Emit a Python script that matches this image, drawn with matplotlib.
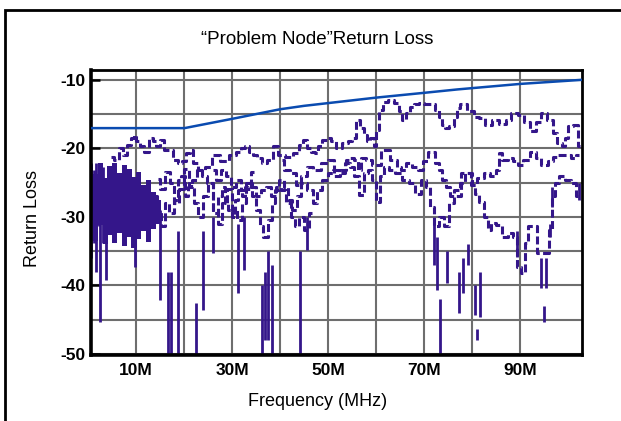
import matplotlib
matplotlib.use("Agg")
import matplotlib.pyplot as plt
from matplotlib.patches import Rectangle

plt.rcParams["font.family"] = ["Liberation Sans", "DejaVu Sans"]
plt.rcParams["axes.unicode_minus"] = False

TRACE_COLOR = "#34168a"
LIMIT_COLOR = "#0a4bb0"
GRID_COLOR = "#6e6e6e"

# spec limit line (MHz, dB)
limit_f = [0.5, 20.1, 30.0, 40.0, 45.0, 52.5, 60.0, 70.0, 77.0, 90.0, 102.9]
limit_db = [-17.05, -17.05, -15.7, -14.3, -13.8, -13.2, -12.6, -11.9, -11.4, -10.6, -10.0]

# upper measured trace
upper_f = [4.9, 5.9, 6.9, 7.6, 8.7, 9.4, 9.7, 10.4, 11.1, 12.2, 13.2, 13.9, 14.6, 15.3,
           16.3, 17.4, 18.2, 19.1, 20.1, 20.8, 21.5, 22.2, 23.6, 25.0, 26.7, 28.5, 30.3,
           31.3, 32.4, 33.1, 33.8, 34.8, 35.8, 36.5, 37.9, 39.0, 40.0, 42.1, 43.5, 44.5,
           45.2, 45.9, 46.9, 47.6, 48.3, 49.4, 50.1, 51.1, 52.2, 53.6, 54.6, 55.3, 56.4,
           57.1, 57.8, 58.5, 59.2, 59.9, 60.2, 60.9, 61.9, 63.3, 64.4, 65.1, 65.8, 66.8,
           67.5, 68.5, 69.6, 70.6, 71.7, 72.7, 73.4, 74.1, 74.8, 75.8, 76.5, 77.2, 77.9,
           79.9, 81.0, 82.0, 83.4, 84.8, 86.5, 87.6, 88.6, 90.4, 91.4, 92.8, 93.8, 94.9,
           96.3, 97.3, 98.3, 99.0, 99.7, 100.4, 101.8, 102.5]
upper_db = [-21.3, -21.7, -20.0, -20.9, -19.5, -18.5, -18.0, -19.0, -19.7, -20.5, -18.5, -19.0,
            -19.7, -18.8, -20.2, -20.2, -21.7, -22.2, -21.9, -20.7, -20.2, -22.2, -23.1, -22.7,
            -20.9, -21.9, -20.9, -20.5, -20.0, -19.7, -20.5, -20.9, -21.4, -22.2, -21.7, -19.7,
            -20.9, -21.2, -20.7, -19.5, -18.8, -20.0, -20.5, -20.7, -19.7, -18.8, -18.5, -19.0,
            -20.0, -19.2, -19.0, -18.5, -15.8, -17.0, -18.0, -19.0, -18.5, -19.7, -17.3, -14.4,
            -13.2, -13.0, -13.4, -14.6, -15.8, -14.9, -13.9, -13.5, -13.4, -13.5, -13.6, -14.4,
            -15.4, -16.6, -17.0, -16.8, -15.4, -14.1, -13.6, -14.6, -15.4, -15.6, -16.6, -15.9,
            -16.4, -15.9, -14.8, -15.1, -16.1, -17.4, -16.1, -14.8, -15.8, -17.8, -19.2, -19.7,
            -18.5, -16.7, -16.6, -19.7]

# middle trace
middle_f = [40.4, 41.4, 42.8, 43.8, 44.9, 46.3, 47.6, 49.4, 50.8, 51.9, 53.3, 54.0, 55.0,
            56.0, 56.4, 57.4, 58.5, 60.0, 61.9, 64.0, 64.7, 65.8, 66.8, 68.2, 69.2, 70.3,
            71.3, 72.0, 72.7, 73.4, 74.1, 75.1, 75.8, 76.9, 77.9, 79.2, 80.3, 81.7, 83.1,
            84.5, 85.5, 85.8, 86.9, 87.9, 89.0, 90.0, 91.4, 92.8, 93.8, 94.9, 96.6, 97.3,
            98.7, 100.1, 101.1, 102.2]
middle_db = [-21.7, -23.1, -23.6, -25.3, -24.1, -22.7, -23.1, -22.2, -21.7, -24.1, -23.1, -21.7,
             -21.4, -21.7, -23.1, -21.4, -21.7, -22.4, -20.2, -21.7, -22.7, -23.1, -22.2, -22.7,
             -23.1, -21.9, -20.5, -20.5, -22.2, -23.1, -24.6, -25.6, -27.0, -26.1, -25.1, -23.6,
             -25.3, -24.4, -23.6, -24.1, -23.1, -20.7, -21.7, -21.4, -21.9, -22.4, -21.7, -20.5,
             -21.4, -22.4, -21.9, -21.2, -20.9, -20.9, -21.4, -20.9]

# lower trace
lower_f = [13.9, 14.9, 15.6, 16.3, 17.4, 18.4, 19.1, 19.8, 20.5, 21.2, 22.2, 23.3, 24.3, 25.3,
           26.8, 27.5, 28.2, 28.9, 29.6, 30.3, 31.0, 31.7, 32.4, 33.1, 33.8, 34.4, 35.5, 36.2,
           36.9, 37.9, 38.6, 39.3, 40.4, 41.4, 42.1, 43.1, 43.8, 44.9, 46.3, 47.3, 48.3, 49.4,
           50.4, 51.5, 52.9, 54.0, 55.0, 56.0, 57.1, 57.8, 58.8, 59.5, 60.6, 61.2, 62.3, 63.3,
           64.7, 66.1, 67.5, 68.9, 69.9, 71.0, 71.7, 72.4, 73.7, 74.8, 75.8, 76.9, 78.5, 79.6,
           80.3, 81.0, 82.0, 83.1, 83.4, 84.5, 85.5, 86.9, 87.9, 89.0, 89.7, 90.7, 91.4, 92.1,
           93.1, 93.8, 95.6, 96.3, 97.0, 97.6, 98.7, 100.1, 101.1, 102.2]
lower_db = [-27.0, -29.0, -31.4, -28.0, -29.5, -27.5, -24.6, -24.1, -27.0, -25.6, -24.6, -23.1,
            -24.1, -25.1, -29.5, -27.0, -25.6, -28.0, -29.0, -30.0, -27.5, -26.1, -27.0, -25.6,
            -25.1, -27.0, -29.0, -31.4, -32.9, -30.4, -28.0, -26.1, -24.6, -25.6, -27.5, -29.0,
            -27.0, -25.1, -26.1, -28.0, -26.1, -24.6, -23.6, -23.1, -23.6, -22.2, -22.7, -24.1,
            -26.8, -23.6, -23.1, -24.6, -27.8, -24.1, -22.7, -23.1, -23.6, -24.6, -25.1, -26.6,
            -24.6, -25.6, -28.5, -31.4, -30.0, -31.4, -28.0, -27.0, -23.6, -23.6, -25.3, -26.6,
            -27.8, -30.0, -31.9, -30.9, -31.2, -32.9, -32.4, -32.9, -37.3, -38.2, -33.8, -31.4,
            -31.4, -35.3, -35.3, -31.9, -27.0, -25.1, -24.1, -24.6, -25.1, -27.0]

# second and third low-band traces
low2_f = [26.1, 27.2, 28.2, 29.2, 30.3, 31.3, 32.4, 33.4, 34.4, 35.5, 36.5, 37.6, 38.6, 39.7,
          40.7, 41.7, 42.8, 43.5, 44.5, 45.6, 46.6]
low2_db = [-23.1, -24.6, -23.1, -24.1, -25.6, -24.6, -26.1, -25.1, -25.6, -27.0, -26.1, -25.6,
           -27.0, -25.6, -26.1, -28.0, -30.0, -31.4, -30.0, -31.9, -29.5]
low3_f = [14.5, 15.5, 16.5, 17.5, 18.5, 19.5, 20.5, 21.5, 22.5, 23.5, 24.5, 25.5, 26.5, 27.5,
          28.5, 29.5, 30.5, 31.5, 32.5, 33.5, 34.5]
low3_db = [-24.5, -26.0, -23.5, -25.0, -28.0, -26.0, -23.0, -25.5, -28.0, -30.0, -27.0, -25.0,
           -29.0, -31.0, -28.0, -26.0, -29.0, -30.5, -28.0, -26.0, -23.5]

# dense low frequency region envelope (1 MHz bins)
core_f = [0.6, 1.6, 2.6, 3.6, 4.6, 5.6, 6.6, 7.6, 8.6, 9.6, 10.6, 11.6, 12.6, 13.6, 14.6]
core_top = [-22.4, -23.8, -22.2, -24.4, -22.6, -22.2, -23.6, -22.4, -23.0, -24.2, -23.4,
            -25.4, -24.6, -26.4, -27.6]
core_bot = [-30.5, -33.5, -31.2, -34.0, -32.6, -33.8, -32.4, -34.2, -33.0, -34.6, -33.2,
            -32.0, -33.6, -31.8, -31.0]

# vertical dips / stripes (freq, top, bottom)
spike_f = [0.7, 1.2, 1.7, 2.2, 2.6, 3.1, 3.8, 9.7, 14.9, 16.7, 17.2, 18.75, 22.6, 24.0,
           26.1, 31.3, 32.4, 36.2, 36.9, 37.6, 38.3, 44.2, 45.6, 72.0, 72.7, 73.4, 74.8,
           77.2, 78.2, 79.2, 80.6, 81.1, 81.7, 89.3, 94.4, 94.9, 95.4, 96.2, 96.6, 102.2]
spike_top = [-22.2, -23.1, -22.2, -24.1, -23.1, -22.7, -24.6, -32.0, -29.0, -38.0, -38.0, -32.0,
             -42.6, -32.0, -30.0, -31.0, -30.0, -40.0, -38.0, -35.0, -37.0, -35.0, -30.0,
             -31.0, -33.0, -42.0, -35.0, -38.0, -36.0, -34.0, -40.0, -46.3, -38.0, -32.0,
             -36.0, -43.0, -36.0, -31.0, -25.6, -25.0]
spike_bot = [-36.0, -33.8, -38.0, -31.4, -45.3, -33.8, -39.2, -37.3, -42.1, -50.0, -50.0, -50.0,
             -50.0, -43.6, -35.3, -41.1, -37.7, -50.0, -48.0, -48.0, -50.0, -50.0, -34.8,
             -37.0, -40.7, -50.0, -39.7, -44.1, -41.1, -37.0, -44.3, -48.0, -44.6, -35.8,
             -40.4, -45.3, -40.4, -33.0, -28.5, -27.5]

fig = plt.figure(figsize=(6.21, 4.21), dpi=100)
ax = fig.add_axes([0.146, 0.157, 0.7907, 0.677])

# outer frame, runs off the right/bottom edge like the source
fig.patches.append(Rectangle((0.0088, -0.1), 1.2, 0.977 + 0.1, transform=fig.transFigure,
                             fill=False, edgecolor="black", linewidth=2.0))

ax.set_xlim(0.56, 102.85)
ax.set_ylim(-50.15, -8.55)

ax.set_xticks([10, 20, 30, 40, 50, 60, 70, 80, 90])
ax.set_xticklabels(["10M", "", "30M", "", "50M", "", "70M", "", "90M"])
ax.set_yticks([-10, -20, -30, -40, -50])
ax.set_yticks([-15, -25, -35, -45], minor=True)
ax.grid(True, which="both", color=GRID_COLOR, linewidth=1.5, zorder=0)
ax.set_axisbelow(True)

ax.tick_params(axis="x", length=0, pad=6, labelsize=12.5)
ax.tick_params(axis="y", which="major", direction="in", length=6.5, width=1.8,
               pad=4, labelsize=12.5, color="black")
ax.tick_params(axis="y", which="minor", length=0)
for lab in ax.get_xticklabels() + ax.get_yticklabels():
    lab.set_fontweight("bold")

for side in ["left", "bottom", "top", "right"]:
    ax.spines[side].set_linewidth(2.0)
    ax.spines[side].set_color("black")
ax.spines["left"].set_linewidth(2.6)
ax.spines["bottom"].set_linewidth(2.6)

dash = (0, (2.6, 1.1))
core_h = [t - b for t, b in zip(core_top, core_bot)]
ax.bar(core_f, core_h, bottom=core_bot, width=1.08, color=TRACE_COLOR, linewidth=0, zorder=2)
ax.vlines(spike_f, spike_bot, spike_top, color=TRACE_COLOR, linewidth=2.0, zorder=2)
for xs, ys in [(lower_f, lower_db), (low2_f, low2_db), (low3_f, low3_db),
               (middle_f, middle_db), (upper_f, upper_db)]:
    ax.plot(xs, ys, color=TRACE_COLOR, linewidth=2.2, linestyle=dash,
            drawstyle="steps-mid", zorder=2)
ax.plot(limit_f, limit_db, color=LIMIT_COLOR, linewidth=1.8, zorder=3)

fig.text(0.51, 0.905, "\u201cProblem Node\u201dReturn Loss", ha="center", va="center", fontsize=13.5)
fig.text(0.053, 0.482, "Return Loss", ha="center", va="center", rotation=90, fontsize=13)
fig.text(0.511, 0.0475, "Frequency (MHz)", ha="center", va="center", fontsize=13)

fig.savefig("out.png", dpi=100)
plt.close()
